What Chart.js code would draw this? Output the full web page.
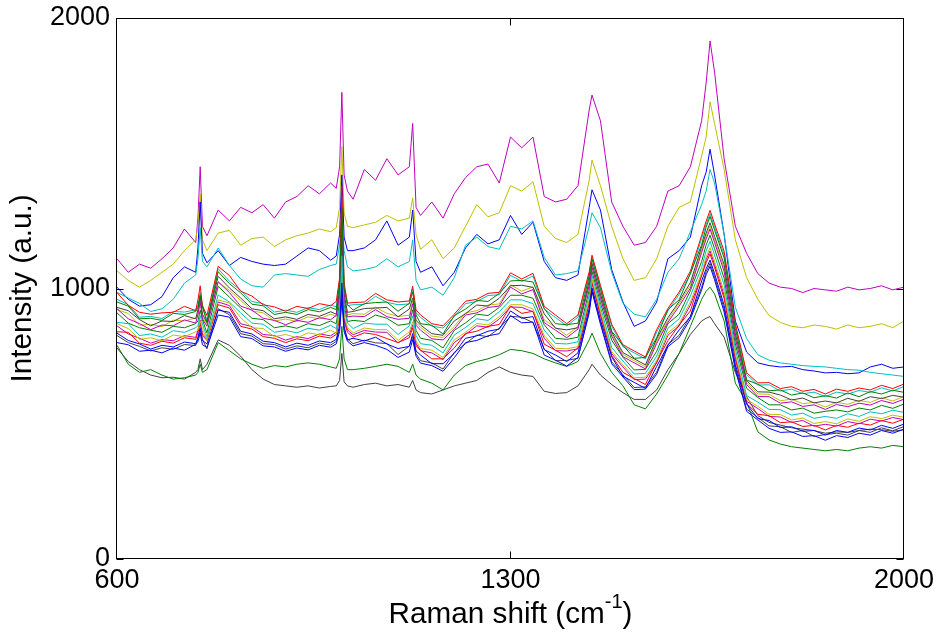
<!DOCTYPE html>
<html><head><meta charset="utf-8">
<script src="https://cdn.jsdelivr.net/npm/chart.js@4.4.1/dist/chart.umd.min.js"></script>
<style>html,body{margin:0;padding:0;background:#fff}</style>
</head><body>
<canvas id="c" width="941" height="633"></canvas>
<script>
// Raman shift axis (cm-1)
const ramanShift = [600,620,640,660,680,700,720,740,744,748,752,760,780,800,820,840,860,880,900,920,940,960,980,990,996,1000,1004,1010,1020,1040,1060,1080,1100,1120,1126,1132,1140,1160,1180,1200,1220,1240,1260,1280,1300,1320,1340,1360,1380,1400,1420,1440,1445,1460,1480,1500,1520,1540,1560,1580,1600,1620,1640,1648,1655,1663,1680,1700,1720,1740,1760,1780,1800,1820,1840,1860,1880,1900,1920,1940,1960,1980,2000];

// upper, separated spectra
const spectrumMagenta = [1110,1060,1090,1075,1110,1150,1220,1170,1260,1450,1230,1195,1290,1250,1300,1280,1310,1260,1320,1340,1380,1350,1390,1370,1450,1725,1420,1360,1330,1440,1400,1480,1420,1450,1610,1300,1270,1320,1260,1350,1410,1450,1460,1390,1560,1520,1560,1340,1320,1330,1380,1660,1715,1620,1320,1230,1160,1170,1230,1360,1380,1450,1620,1760,1915,1800,1480,1230,1130,1055,1020,1005,1000,985,1000,995,990,1005,995,1000,1010,995,1005];
const spectrumYellow = [1065,1030,1005,1030,1060,1090,1140,1180,1230,1350,1180,1140,1205,1215,1160,1185,1190,1155,1180,1195,1205,1220,1210,1225,1300,1525,1280,1230,1225,1235,1245,1270,1250,1260,1335,1200,1145,1180,1110,1150,1230,1310,1265,1280,1380,1360,1395,1230,1185,1170,1200,1400,1475,1380,1230,1110,1030,1040,1110,1230,1300,1320,1490,1560,1690,1610,1440,1180,1040,960,900,875,860,855,865,860,850,865,855,860,870,855,880];
const spectrumBlue = [1005,960,935,940,970,1040,1080,1060,1150,1320,1130,1095,1140,1085,1115,1100,1090,1085,1090,1120,1150,1140,1105,1120,1200,1420,1190,1140,1140,1150,1180,1250,1160,1190,1290,1100,1060,1080,1010,1060,1150,1200,1165,1180,1270,1200,1245,1100,1040,1030,1050,1300,1365,1290,1070,950,860,880,950,1110,1140,1190,1380,1430,1515,1420,1200,880,765,725,715,710,712,700,695,688,690,685,688,710,720,705,710];
const spectrumCyan = [985,965,945,915,925,960,1020,1050,1110,1225,1100,1080,1150,1085,1035,1010,1005,1050,1055,1050,1045,1070,1085,1090,1160,1250,1140,1080,1065,1070,1080,1110,1080,1100,1180,1030,995,1005,975,1040,1160,1190,1155,1145,1230,1220,1250,1115,1050,1055,1065,1230,1280,1225,1060,945,905,895,960,1060,1110,1210,1310,1360,1440,1390,1200,930,815,755,735,725,720,715,712,710,705,700,698,690,685,680,675];

// dense central band of spectra
const band1 = [835,808,795,776,790,784,802,796,820,855,808,795,920,912,842,832,805,800,784,798,790,806,800,812,863,1020,860,810,816,806,820,795,778,786,833,769,754,722,722,760,816,825,842,850,917,890,896,774,754,730,762,926,1002,884,748,676,653,631,712,790,847,896,1028,1073,1105,1055,938,719,573,519,512,486,489,472,475,458,475,468,484,477,494,483,499];
const band2 = [950,935,888,890,882,908,904,915,930,975,932,875,1062,1018,984,942,936,904,912,904,922,914,930,922,1017,1300,1000,940,920,944,948,950,916,945,987,902,870,864,832,900,924,956,952,982,1028,1030,1024,926,870,866,872,1045,1108,996,842,790,742,745,818,922,958,1056,1162,1227,1266,1216,1113,852,662,646,622,625,606,614,596,604,595,614,600,619,610,624,616];
const band3 = [985,938,912,905,910,912,934,918,958,1010,936,900,1082,1048,990,972,940,932,916,934,926,944,936,952,1039,1380,1020,946,948,950,982,958,950,954,1009,921,902,870,862,905,953,960,982,986,1058,1035,1056,934,902,870,902,1062,1123,1012,868,792,769,747,848,926,987,1064,1196,1249,1289,1239,1138,871,689,651,652,630,637,620,627,610,628,620,632,625,642,630,647];
const band4 = [875,870,826,832,820,844,838,855,862,900,868,822,976,950,910,872,868,838,845,836,853,846,864,852,929,1120,920,872,852,872,868,868,830,862,899,826,796,790,762,828,856,888,882,914,958,958,944,846,797,795,803,977,1048,932,782,732,684,686,750,853,888,972,1078,1139,1174,1124,1013,776,604,580,553,552,532,539,520,527,520,537,527,544,537,550,542];
const band5 = [925,888,870,848,865,862,884,872,905,950,888,860,1025,985,935,920,890,882,866,882,875,892,885,900,973,1260,960,895,898,896,922,896,886,890,943,864,846,814,810,850,902,910,930,935,1005,980,996,874,846,818,850,1011,1078,964,824,748,725,703,797,875,935,1001,1133,1183,1220,1170,1063,814,645,601,600,576,581,564,570,553,571,563,576,569,586,575,591];
const band6 = [870,852,812,818,806,828,822,840,846,880,852,810,958,946,892,855,852,822,830,818,836,829,846,835,907,1080,900,856,836,854,848,848,808,840,877,807,778,772,745,810,838,871,865,896,940,940,924,826,779,777,785,960,1033,916,767,718,670,672,734,836,870,950,1058,1117,1151,1101,988,757,590,564,535,534,514,521,501,508,500,518,509,526,519,532,524];
const band7 = [930,918,885,862,880,878,900,888,922,970,905,874,1045,1002,965,925,918,888,895,886,904,897,914,905,995,1220,980,912,915,926,928,930,895,924,965,883,865,833,827,880,907,939,935,964,1010,1012,1004,906,853,847,855,1028,1093,980,839,763,740,718,814,892,952,1022,1154,1205,1243,1193,1088,833,660,618,617,606,588,595,577,584,577,594,583,600,593,605,598];
const band8 = [800,792,768,772,762,780,772,794,804,835,792,782,902,894,822,815,788,784,768,780,773,790,783,795,841,960,840,805,788,800,790,775,745,765,811,750,724,715,694,744,800,808,825,833,900,873,876,754,735,713,745,909,988,868,722,673,626,628,683,785,818,887,995,1051,1082,1032,913,700,546,514,483,468,470,453,456,439,456,449,465,458,475,465,480];
const band9 = [910,872,855,846,838,860,855,870,880,920,884,836,1008,968,928,890,885,855,862,853,870,863,880,870,951,1180,940,878,882,878,902,890,864,870,921,845,816,808,780,845,873,905,900,930,975,975,964,866,816,812,820,994,1063,948,809,746,699,701,768,870,905,992,1100,1161,1197,1147,1038,795,631,597,570,570,551,558,539,546,551,544,558,551,568,557,573];
const band10 = [840,838,798,790,805,798,818,812,838,872,826,808,940,928,860,850,822,816,800,814,807,824,817,830,885,1060,880,838,820,836,830,815,800,818,855,788,772,740,740,780,834,842,860,867,935,908,916,794,772,748,780,943,1018,900,752,690,667,645,729,807,865,917,1049,1095,1128,1078,963,738,575,535,530,504,507,490,494,477,494,487,502,495,512,502,517];
const band11 = [960,940,894,897,889,915,913,921,937,985,940,881,1073,1027,993,952,944,913,920,912,929,922,939,932,1028,1340,1010,937,940,941,971,949,940,943,998,911,893,861,854,896,944,952,974,977,1049,1026,1046,924,893,862,894,1053,1115,1004,861,785,762,740,839,917,979,1053,1185,1238,1277,1227,1125,861,682,643,644,621,628,611,617,600,617,610,623,616,633,621,638];
const band12 = [862,832,816,798,811,807,826,819,847,883,832,815,950,937,870,859,830,826,809,822,815,832,825,839,896,1100,890,847,829,845,839,838,799,829,866,797,770,762,737,800,830,862,857,887,932,930,914,816,770,769,777,951,1025,908,759,710,663,665,725,827,862,939,1047,1106,1139,1089,975,747,583,556,527,525,505,512,491,498,491,508,500,517,510,523,515];
const band13 = [922,908,864,868,859,883,880,891,903,960,896,867,1024,993,956,917,910,880,887,878,895,888,905,897,984,1200,970,903,907,905,931,908,897,901,954,873,856,824,819,860,910,918,939,943,1014,990,1006,884,856,827,859,1019,1085,972,831,756,733,711,805,883,944,1011,1143,1194,1231,1181,1075,823,653,610,609,585,591,574,579,562,579,572,586,579,596,584,601];
const band14 = [826,800,786,769,781,775,793,789,813,845,812,777,925,903,833,824,796,793,776,788,781,798,791,804,852,990,850,813,796,809,799,797,756,787,822,759,733,725,702,764,796,828,822,853,897,894,874,776,733,734,742,917,995,876,729,681,634,636,691,793,827,897,1005,1062,1093,1043,925,709,554,523,492,489,468,475,453,460,465,458,475,468,485,474,490];

// lowest spectra
const spectrumLowGreen = [790,720,690,700,680,665,670,680,690,720,690,700,800,770,740,720,705,715,710,720,725,720,710,705,740,860,740,700,700,705,712,720,712,690,720,680,665,650,625,680,715,730,740,755,775,770,760,740,725,712,730,810,835,760,690,640,570,555,610,680,760,860,960,990,1005,980,880,650,580,470,440,425,415,410,405,400,405,400,410,415,410,420,415];
const spectrumLowGray = [780,730,700,680,670,672,665,690,700,740,700,720,810,790,750,700,665,645,640,635,640,632,638,640,660,760,655,640,635,645,650,640,645,635,660,625,615,610,625,640,650,660,690,710,690,680,675,620,612,615,640,700,720,680,645,615,590,590,625,700,760,830,880,890,896,870,820,690,600,530,505,495,485,480,475,465,470,468,475,480,478,472,478];

const xTickValues = [600, 1300, 2000];
const yTickValues = [0, 1000, 2000];
const yTitle = 'Intensity (a.u.)';
const xTitleMain = 'Raman shift (cm';
const xTitleSup = '-1';
const xTitleEnd = ')';

const C = {b:'#0000ff', g:'#008000', r:'#ff0000', c:'#00bfbf', m:'#bf00bf', y:'#bfbf00', k:'#404040'};
const seriesList = [
  [band1, C.b], [band2, C.g], [band3, C.r], [band4, C.c], [band5, C.m],
  [band6, C.y], [band7, C.k], [band8, C.b], [band9, C.g], [band10, C.r],
  [band11, C.c], [band12, C.m], [band13, C.y], [band14, C.k],
  [spectrumLowGreen, C.g], [spectrumLowGray, C.k],
  [spectrumCyan, C.c], [spectrumBlue, C.b], [spectrumYellow, C.y], [spectrumMagenta, C.m]
];

const FONT = '"Liberation Sans", Arial, Helvetica, sans-serif';

const datasets = seriesList.map(([vals, col]) => ({
  data: ramanShift.map((x, i) => ({x: x, y: vals[i]})),
  borderColor: col, borderWidth: 1, pointRadius: 0, tension: 0, fill: false
}));

const framePlugin = {
  id: 'frame',
  afterDatasetsDraw(chart) {
    const {ctx, chartArea: a, scales} = chart;
    const xs = scales.x, ys = scales.y;
    ctx.save();
    ctx.strokeStyle = '#000';
    ctx.lineWidth = 1;
    const L = Math.round(a.left) - 0.5, R = Math.round(a.right) - 0.5;
    const T = Math.round(a.top) + 0.5, B = Math.round(a.bottom) - 0.5;
    ctx.strokeRect(L, T, R - L, B - T);
    const tl = 7;
    ctx.beginPath();
    xTickValues.forEach(v => {
      const px = Math.round(xs.getPixelForValue(v)) - 0.5;
      ctx.moveTo(px, B); ctx.lineTo(px, B - tl);
      ctx.moveTo(px, T); ctx.lineTo(px, T + tl);
    });
    yTickValues.forEach(v => {
      const py = Math.round(ys.getPixelForValue(v)) + 0.5;
      ctx.moveTo(L, py); ctx.lineTo(L + tl, py);
      ctx.moveTo(R, py); ctx.lineTo(R - tl, py);
    });
    ctx.stroke();
    // x-axis title with superscript
    const cx = (a.left + a.right) / 2;
    const base = 623;
    ctx.fillStyle = '#000';
    ctx.textBaseline = 'alphabetic';
    ctx.textAlign = 'left';
    const big = '29.7px ' + FONT, small = '20px ' + FONT;
    ctx.font = big; const w1 = ctx.measureText(xTitleMain).width; const w3 = ctx.measureText(xTitleEnd).width;
    ctx.font = small; const w2 = ctx.measureText(xTitleSup).width;
    let sx = cx - (w1 + w2 + w3) / 2;
    ctx.font = big; ctx.fillText(xTitleMain, sx, base); sx += w1;
    ctx.font = small; ctx.fillText(xTitleSup, sx, base - 15); sx += w2;
    ctx.font = big; ctx.fillText(xTitleEnd, sx, base);
    ctx.restore();
  }
};

new Chart(document.getElementById('c'), {
  type: 'line',
  data: { datasets },
  options: {
    responsive: false,
    devicePixelRatio: 1,
    animation: false,
    events: [],
    layout: { padding: { left: 0, right: 37, top: 18, bottom: 0 } },
    plugins: { legend: { display: false }, tooltip: { enabled: false } },
    scales: {
      x: {
        type: 'linear', min: 600, max: 2000,
        afterBuildTicks: s => { s.ticks = xTickValues.map(v => ({ value: v })); },
        afterFit: s => { s.height = 74; s.paddingLeft = 0; s.paddingRight = 0; },
        ticks: { color: '#000', font: { family: FONT, size: 27 }, padding: 5, maxRotation: 0, autoSkip: false, callback: v => String(v) },
        grid: { display: false, drawTicks: false },
        border: { display: false },
        title: { display: false }
      },
      y: {
        type: 'linear', min: 0, max: 2000,
        afterBuildTicks: s => { s.ticks = yTickValues.map(v => ({ value: v })); },
        afterFit: s => { s.width = 117; s.paddingTop = 0; s.paddingBottom = 0; },
        ticks: { color: '#000', font: { family: FONT, size: 27 }, padding: 7, callback: v => String(v) },
        grid: { display: false, drawTicks: false },
        border: { display: false },
        title: { display: true, text: yTitle, color: '#000', font: { family: FONT, size: 29.7 }, padding: { top: 5, bottom: 0 } }
      }
    }
  },
  plugins: [framePlugin]
});
</script>
</body></html>
